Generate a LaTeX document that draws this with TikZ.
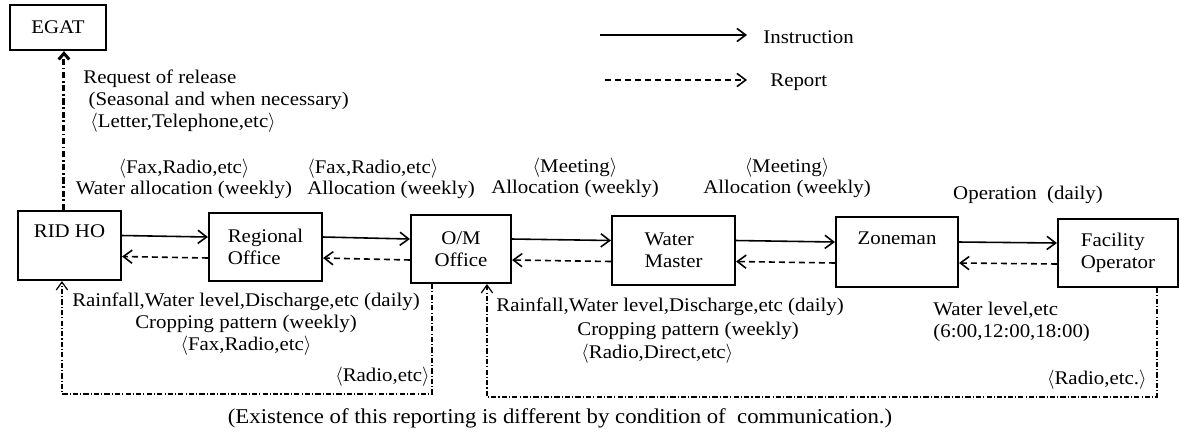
\documentclass[tikz,border=0pt]{standalone}
\usepackage{fontspec}
\setmainfont{Liberation Serif}[FakeStretch=1.08]
\usepackage{tikz}
\usetikzlibrary{arrows.meta,positioning,calc}
\newcommand{\lblfont}{\fontsize{11}{12.3}\selectfont}
\newcommand{\angl}{\ensuremath{\langle}}
\newcommand{\angr}{\ensuremath{\rangle}}
\tikzset{
  box/.style={draw,line width=1.2pt,inner sep=0pt,font=\lblfont},
  lbl/.style={inner sep=0pt,font=\lblfont,align=center},
  instr/.style={line width=0.9pt,-{Straight Barb[length=5pt,width=7.5pt]}},
  rept/.style={instr,dash pattern=on 3.4pt off 2.3pt},
  feed/.style={line width=0.7pt,dash pattern=on 3pt off 1.2pt on 0.6pt off 1.2pt,-{Straight Barb[length=4.5pt,width=6.5pt]}},
  req/.style={line width=1.7pt,dash pattern=on 3.5pt off 1.5pt on 1pt off 1.5pt,-{Straight Barb[length=3.5pt,width=6pt]}}
}

\begin{document}
\begin{tikzpicture}[x=0.02cm,y=-0.02cm]
  \useasboundingbox (0,0) rectangle (1179,434);
  % boxes
  \node[box,minimum width=1.92cm,minimum height=0.9cm] (egat) at (58,27.5) {EGAT};
  \node[box,minimum width=2.06cm,minimum height=1.38cm,align=center] (rid) at (69.5,245.5) {RID HO\\\strut};
  \node[box,minimum width=2.26cm,minimum height=1.36cm,align=left] (reg) at (265.5,247) {Regional\\Office};
  \node[box,minimum width=2.0cm,minimum height=1.36cm,align=center] (om) at (461,249) {O/M\\Office};
  \node[box,minimum width=2.46cm,minimum height=1.38cm,align=left] (wm) at (673.5,250.5) {Water\\Master};
  \node[box,minimum width=2.44cm,minimum height=1.4cm,align=center] (zon) at (897,252) {Zoneman\\\strut};
  \node[box,minimum width=2.4cm,minimum height=1.36cm,align=left] (fac) at (1118,253) {Facility\\Operator};
  % instruction and report arrows
  \foreach \a/\b in {rid/reg,reg/om,om/wm,wm/zon,zon/fac} {
    \draw[instr] ([yshift=0.2cm]\a.east) -- ([yshift=0.2cm]\b.west);
    \draw[rept] ([yshift=-0.22cm]\b.west) -- ([yshift=-0.22cm]\a.east);
  }
  % request to EGAT
  \coordinate (ridtop) at ($(rid.north west)+(47,0)$);
  \draw[req] (ridtop) -- (ridtop |- egat.south);
  % direct reporting loops
  \coordinate (omdn) at ($(om.south west)+(22,0)$);
  \coordinate (ridup) at ($(rid.south west)+(45,0)$);
  \coordinate (loopA) at (0,394);
  \draw[feed] (omdn) -- (omdn |- loopA) -| (ridup);
  \coordinate (facdn) at ($(fac.south west)+(100,0)$);
  \coordinate (omup) at ($(om.south west)+(77,0)$);
  \coordinate (loopB) at (0,397);
  \draw[feed] (facdn) -- (facdn |- loopB) -| (omup);
  % legend
  \coordinate (legA) at (600,35);
  \coordinate (legB) at (747,35);
  \coordinate (legC) at (605,80);
  \coordinate (legD) at (747,80);
  \draw[instr] (legA) -- (legB);
  \draw[rept] (legC) -- (legD);
  \node[lbl,anchor=west] (instrtxt) at (763,37) {Instruction};
  \node[lbl,anchor=west] (repttxt) at (770,82) {Report};
  % labels above
  \node[lbl,anchor=west,align=left] (reqtxt) at (83,101) {Request of release\\\hspace{3pt}(Seasonal and when necessary)\\\hspace{4pt}\angl Letter,Telephone,etc\angr};
  \node[lbl] (lab1) at (184,179) {\angl Fax,Radio,etc\angr\\Water allocation (weekly)};
  \node[lbl,anchor=west,align=left] (lab2) at (307,179) {\angl Fax,Radio,etc\angr\\Allocation (weekly)};
  \node[lbl] (lab3) at (575,178) {\angl Meeting\angr\\Allocation (weekly)};
  \node[lbl] (lab4) at (787,178) {\angl Meeting\angr\\Allocation (weekly)};
  \node[lbl] (lab5) at (1028,195) {Operation\ \ (daily)};
  % labels below
  \node[lbl] (low1) at (246,324) {Rainfall,Water level,Discharge,etc (daily)\\Cropping pattern (weekly)\\\angl Fax,Radio,etc\angr};
  \node[lbl,anchor=east] (radio1) at (430,377) {\angl Radio,etc\angr};
  \node[lbl,anchor=west] (low2a) at (496,307) {Rainfall,Water level,Discharge,etc (daily)};
  \node[lbl,anchor=west] (low2b) at (577,331) {Cropping pattern (weekly)};
  \node[lbl,anchor=west] (low2c) at (581,354) {\angl Radio,Direct,etc\angr};
  \node[lbl,anchor=west,align=left] (wltxt) at (933,322) {Water level,etc\\(6:00,12:00,18:00)};
  \node[lbl,anchor=east] (radio2) at (1147,380) {\angl Radio,etc.\angr};
  \node[lbl,font=\fontsize{12}{14}\selectfont] (note) at (560,418) {(Existence of this reporting is different by condition of\ \ communication.)};
\end{tikzpicture}
\end{document}
